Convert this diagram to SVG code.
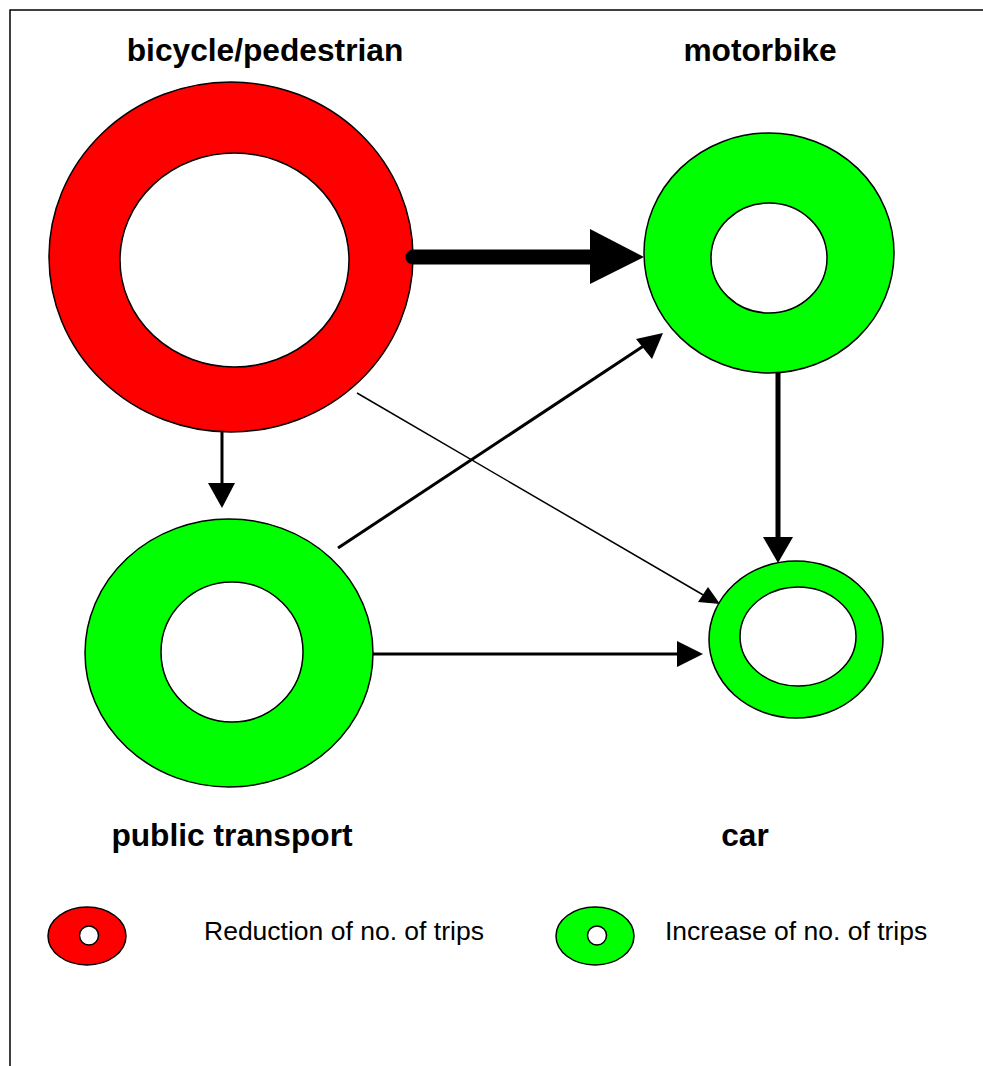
<svg xmlns="http://www.w3.org/2000/svg" width="983" height="1066" viewBox="0 0 983 1066">
<style>
.red{fill:#ff0000;stroke:#000;stroke-width:1.5}
.green{fill:#00ff00;stroke:#000;stroke-width:1.5}
.hole{fill:#fff;stroke:#000;stroke-width:1.5}
.title{font-family:"Liberation Sans",Arial,sans-serif;font-weight:bold;font-size:31.7px;fill:#000;text-anchor:middle}
.leg{font-family:"Liberation Sans",Arial,sans-serif;font-size:26.5px;fill:#000}
.ln{stroke:#000;fill:none}
.head{fill:#000}
</style>
<rect x="0" y="0" width="983" height="1066" fill="#fff"/>
<path d="M10,1066 V10 H983" fill="none" stroke="#000" stroke-width="1.5"/>

<g id="bicycle">
<ellipse class="red" cx="231" cy="257" rx="182" ry="175"/>
<ellipse class="hole" cx="234.5" cy="260" rx="114.5" ry="107"/>
<text class="title" x="265" y="61">bicycle/pedestrian</text>
</g>
<g id="motorbike">
<ellipse class="green" cx="769" cy="253" rx="125" ry="120"/>
<ellipse class="hole" cx="769" cy="258" rx="58" ry="55"/>
<text class="title" x="760" y="61">motorbike</text>
</g>
<g id="public">
<ellipse class="green" cx="229" cy="653" rx="144" ry="134"/>
<ellipse class="hole" cx="232" cy="652" rx="71" ry="70"/>
<text class="title" x="232" y="846">public transport</text>
</g>
<g id="car">
<ellipse class="green" cx="796" cy="639.5" rx="87" ry="78.5"/>
<ellipse class="hole" cx="798" cy="636.5" rx="58" ry="49.5"/>
<text class="title" x="745" y="846">car</text>
</g>

<g id="connectors">
<line class="ln" x1="413" y1="257" x2="592" y2="257" stroke-width="15" stroke-linecap="round"/>
<polygon class="head" points="590,229 644,257 590,284"/>
<line class="ln" x1="222" y1="432" x2="222" y2="485" stroke-width="3"/>
<polygon class="head" points="208,483 235,483 222,508"/>
<line class="ln" x1="778" y1="373" x2="778" y2="540" stroke-width="5"/>
<polygon class="head" points="763,537 793,537 778,563"/>
<line class="ln" x1="338" y1="548" x2="645" y2="345" stroke-width="3"/>
<polygon class="head" points="663,333 636,339 652,359"/>
<line class="ln" x1="357" y1="393" x2="705" y2="596" stroke-width="1.5"/>
<polygon class="head" points="720,604 698,602 708,587"/>
<line class="ln" x1="373" y1="654" x2="680" y2="654" stroke-width="3"/>
<polygon class="head" points="677,641 703,654 677,667"/>
</g>

<g id="legend-red">
<ellipse class="red" cx="87" cy="936" rx="39" ry="29"/>
<circle class="hole" cx="89" cy="935.5" r="9.5"/>
<text class="leg" x="204" y="940">Reduction of no. of trips</text>
</g>
<g id="legend-green">
<ellipse class="green" cx="595" cy="936" rx="39" ry="29"/>
<circle class="hole" cx="597" cy="935.5" r="9.5"/>
<text class="leg" x="665" y="940">Increase of no. of trips</text>
</g>
</svg>
